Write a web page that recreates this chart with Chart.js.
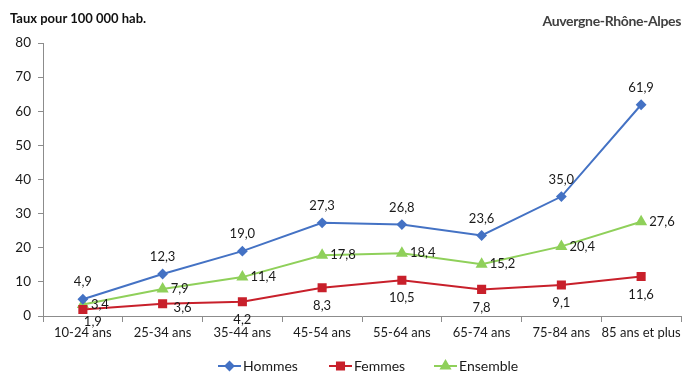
<!DOCTYPE html>
<html lang="fr">
<head>
<meta charset="utf-8">
<script src="https://cdn.jsdelivr.net/npm/chart.js@4/dist/chart.umd.min.js"></script>
<style>
  html, body { margin: 0; padding: 0; background: #fff; }
  #wrap { position: relative; width: 688px; height: 374px; font-family: Lato, 'Noto Sans', sans-serif; }
  #wrap canvas { position: absolute; left: 0; top: 0; }
  .unit { position: absolute; left: 10px; top: 10px; font-weight: bold; font-size: 13px; color: #111; }
  .region { position: absolute; right: 7px; top: 12px; font-weight: bold; font-size: 14px; letter-spacing: -0.35px; color: #404040; }
</style>
</head>
<body>
<div id="wrap">
  <canvas id="myChart" width="688" height="374"></canvas>
  <div class="unit">Taux pour 100 000 hab.</div>
  <div class="region">Auvergne-Rhône-Alpes</div>
</div>
<script>
// tranches d'âge et taux par sexe
const ageGroups = ['10-24 ans', '25-34 ans', '35-44 ans', '45-54 ans', '55-64 ans', '65-74 ans', '75-84 ans', '85 ans et plus'];
const hommes = [4.9, 12.3, 19.0, 27.3, 26.8, 23.6, 35.0, 61.9];
const femmes = [1.9, 3.6, 4.2, 8.3, 10.5, 7.8, 9.1, 11.6];
const ensemble = [3.4, 7.9, 11.4, 17.8, 18.4, 15.2, 20.4, 27.6];
const yTicks = [0, 10, 20, 30, 40, 50, 60, 70, 80];

const FONT = 'Lato, "Noto Sans", sans-serif';
const BLUE = '#4472c4';
const RED = '#c8202b';
const GREEN = '#8fd05a';

const fmt = (v) => v.toFixed(1).replace('.', ',');

// étiquettes de valeur : au-dessus, en dessous ou à droite du point
const valueLabels = {
  id: 'valueLabels',
  afterDatasetsDraw(chart) {
    const ctx = chart.ctx;
    ctx.save();
    ctx.font = '13px ' + FONT;
    ctx.fillStyle = '#1a1a1a';
    ctx.textBaseline = 'middle';
    chart.data.datasets.forEach((ds, i) => {
      const meta = chart.getDatasetMeta(i);
      meta.data.forEach((pt, j) => {
        const txt = fmt(ds.data[j]);
        let x = pt.x, y = pt.y;
        const nudge = (ds.nudge && ds.nudge[j]) || [0, 0];
        if (ds.labelPos === 'top') {
          ctx.textAlign = 'center';
          y -= 17;
        } else if (ds.labelPos === 'bottom') {
          ctx.textAlign = 'center';
          y += 18;
        } else {
          ctx.textAlign = 'left';
          x += 8;
        }
        ctx.fillText(txt, x + nudge[0], y + nudge[1]);
      });
    });
    ctx.restore();
  },
};

// légende en bas : trait + marqueur puis libellé
const lineLegend = {
  id: 'lineLegend',
  afterDraw(chart) {
    const ctx = chart.ctx;
    const starts = [218, 329, 434];
    const y = 366;
    ctx.save();
    chart.data.datasets.forEach((ds, i) => {
      const x0 = starts[i];
      ctx.strokeStyle = ds.borderColor;
      ctx.lineWidth = 2;
      ctx.beginPath();
      ctx.moveTo(x0, y);
      ctx.lineTo(x0 + 23, y);
      ctx.stroke();
      Chart.helpers.drawPoint(ctx, {
        pointStyle: ds.pointStyle,
        radius: ds.pointRadius,
        borderWidth: 1,
        rotation: 0,
      }, x0 + 11.5, y);
      ctx.fillStyle = ds.borderColor;
      ctx.fill();
      ctx.fillStyle = '#1a1a1a';
      ctx.font = '14px ' + FONT;
      ctx.textAlign = 'left';
      ctx.textBaseline = 'middle';
      ctx.fillText(ds.label, x0 + 25, y);
    });
    ctx.restore();
  },
};

new Chart(document.getElementById('myChart'), {
  type: 'line',
  data: {
    labels: ageGroups,
    datasets: [
      {
        label: 'Hommes',
        data: hommes,
        borderColor: BLUE,
        backgroundColor: BLUE,
        borderWidth: 2,
        pointStyle: 'rectRot',
        pointRadius: 4,
        labelPos: 'top',
      },
      {
        label: 'Femmes',
        data: femmes,
        borderColor: RED,
        backgroundColor: RED,
        borderWidth: 2,
        pointStyle: 'rect',
        pointRadius: 5,
        labelPos: 'bottom',
        nudge: [[10, -6], [20, -14], [0, 0], [0, 0], [0, 0], [0, 0], [0, 0], [0, 0]],
      },
      {
        label: 'Ensemble',
        data: ensemble,
        borderColor: GREEN,
        backgroundColor: GREEN,
        borderWidth: 2,
        pointStyle: 'triangle',
        pointRadius: 5,
        labelPos: 'right',
      },
    ],
  },
  options: {
    responsive: false,
    animation: false,
    layout: { padding: { top: 43, right: 3, left: 0, bottom: 0 } },
    plugins: {
      legend: { display: false },
      tooltip: { enabled: false },
    },
    scales: {
      x: {
        offset: true,
        grid: { offset: true, drawOnChartArea: false, tickLength: 6, color: '#8c8c8c' },
        border: { color: '#8c8c8c', width: 1 },
        ticks: { color: '#1a1a1a', font: { family: FONT, size: 13 }, padding: 3, maxRotation: 0, autoSkip: false },
        afterFit(scale) { scale.height = 58; },
      },
      y: {
        min: 0,
        max: 80,
        afterBuildTicks(scale) { scale.ticks = yTicks.map((v) => ({ value: v })); },
        grid: { drawOnChartArea: false, tickLength: 5, color: '#8c8c8c' },
        border: { color: '#8c8c8c', width: 1 },
        ticks: { color: '#1a1a1a', font: { family: FONT, size: 13.5 }, padding: 7 },
        afterFit(scale) { scale.width = 43; },
      },
    },
  },
  plugins: [valueLabels, lineLegend],
});
</script>
</body>
</html>
